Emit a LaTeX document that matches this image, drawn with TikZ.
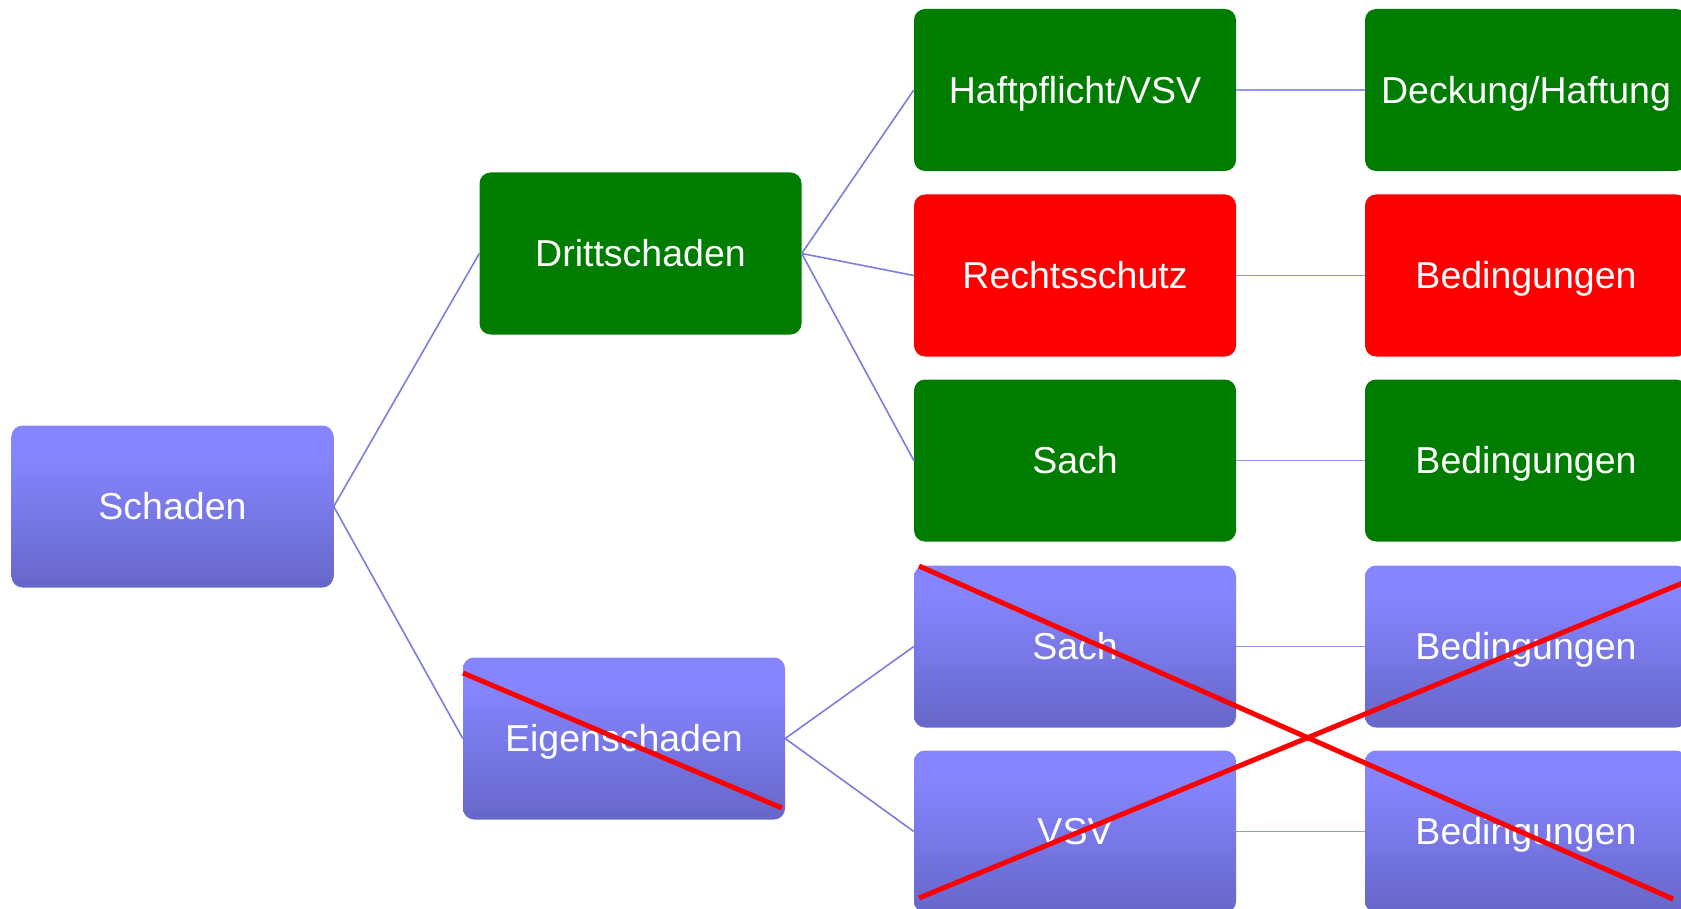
\documentclass[tikz,border=0pt]{standalone}
\usepackage{fontspec}
\setmainfont{Liberation Sans}
\definecolor{dgreen}{RGB}{0,125,0}
\definecolor{bred}{RGB}{255,0,0}
\definecolor{btop}{RGB}{133,133,255}
\definecolor{bbot}{RGB}{104,104,204}
\definecolor{edgec}{RGB}{125,125,222}
\definecolor{edgel}{RGB}{150,150,240}
\pgfdeclareverticalshading{blueshade}{100bp}{color(0bp)=(bbot); color(27bp)=(bbot); color(66bp)=(btop); color(100bp)=(btop)}
\tikzset{
  box/.style={rectangle, rounded corners=11pt, minimum width=322pt, minimum height=162pt, inner sep=0pt, text=white, text height=26.5pt, text depth=0pt, font=\fontsize{37.5}{44}\selectfont},
  gbox/.style={box, fill=dgreen},
  rbox/.style={box, fill=bred},
  bbox/.style={box, shading=blueshade},
  edge/.style={draw=edgec, line width=1.6pt},
  hedge/.style={draw=edgel, line width=1.8pt},
  cross/.style={draw=bred, line width=5pt}
}
\begin{document}
\begin{tikzpicture}[x=1pt,y=-1pt]
\useasboundingbox (0,0) rectangle (1681,909);
\clip (0,0) rectangle (1681,909);
% nodes
\node[bbox] (schaden) at (172.5,506.5) {Schaden};
\node[gbox] (dritt) at (640.5,253.5) {Drittschaden};
\node[bbox] (eigen) at (624,738.5) {Eigenschaden};
\node[gbox] (haft) at (1075,90) {Haftpflicht/VSV};
\node[rbox] (recht) at (1075,275.5) {Rechtsschutz};
\node[gbox] (sach1) at (1075,460.5) {Sach};
\node[bbox] (sach2) at (1075,646.5) {Sach};
\node[bbox] (vsv) at (1075,831.5) {VSV};
\node[gbox] (deck) at (1526,90) {Deckung/Haftung};
\node[rbox] (bed1) at (1526,275.5) {Bedingungen};
\node[gbox] (bed2) at (1526,460.5) {Bedingungen};
\node[bbox] (bed3) at (1526,646.5) {Bedingungen};
\node[bbox] (bed4) at (1526,831.5) {Bedingungen};
% connectors
\draw[edge] (schaden.east) -- (dritt.west);
\draw[edge] (schaden.east) -- (eigen.west);
\draw[edge] (dritt.east) -- (haft.west);
\draw[edge] (dritt.east) -- (recht.west);
\draw[edge] (dritt.east) -- (sach1.west);
\draw[edge] (eigen.east) -- (sach2.west);
\draw[edge] (eigen.east) -- (vsv.west);
\draw[hedge] (haft.east) -- (deck.west);
\draw[hedge] (recht.east) -- (bed1.west);
\draw[hedge] (sach1.east) -- (bed2.west);
\draw[hedge] (sach2.east) -- (bed3.west);
\draw[hedge] (vsv.east) -- (bed4.west);
% crosses
\coordinate (e1) at (463,673);
\coordinate (e2) at (782,808);
\coordinate (c1) at (919,566);
\coordinate (c2) at (1673,899);
\coordinate (c3) at (919,898);
\coordinate (c4) at (1690,580);
\draw[cross] (e1) -- (e2);
\draw[cross] (c1) -- (c2);
\draw[cross] (c3) -- (c4);
\end{tikzpicture}
\end{document}
